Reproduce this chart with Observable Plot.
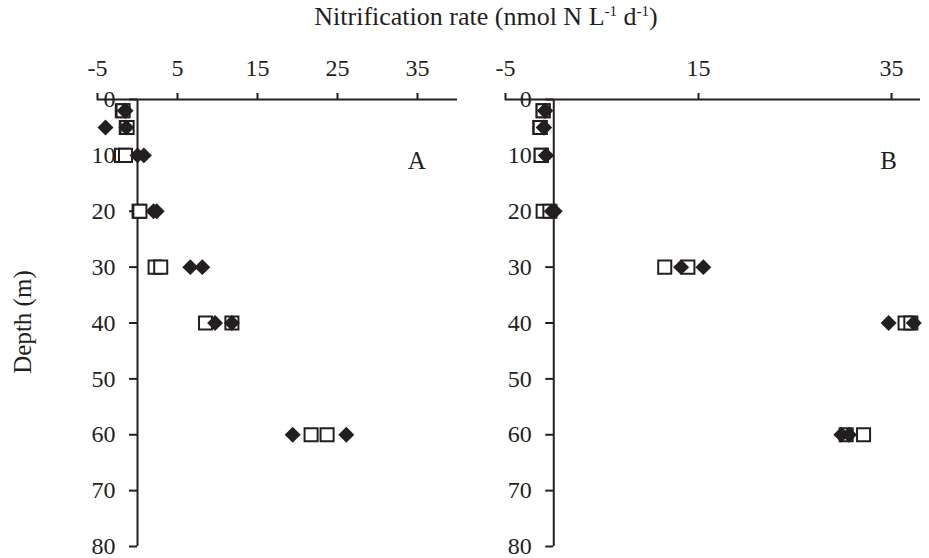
<!DOCTYPE html>
<html>
<head>
<meta charset="utf-8">
<script src="https://cdn.jsdelivr.net/npm/d3@7"></script>
<script src="https://cdn.jsdelivr.net/npm/@observablehq/plot@0.6"></script>
<style>
  html, body { margin: 0; padding: 0; background: #fff; }
  #wrap { position: relative; width: 929px; height: 558px; font-family: "Liberation Serif", "Times New Roman", serif; color: #231f20; overflow: hidden; }
  #title { position: absolute; left: 486px; top: 4px; transform: translateX(-50%); font-size: 26px; line-height: 26px; white-space: nowrap; }
  #title sup { font-size: 15px; vertical-align: 9px; line-height: 0; }
  #ylab { position: absolute; left: 22px; top: 322px; transform: translate(-50%, -50%) rotate(-90deg); font-size: 25px; line-height: 25px; white-space: nowrap; }
  #pA { position: absolute; left: 0; top: 0; }
  #pB { position: absolute; left: 470px; top: 0; }
  #pA svg, #pB svg { font-family: "Liberation Serif", "Times New Roman", serif; font-size: 24px; }
</style>
</head>
<body>
<div id="wrap">
  <div id="title">Nitrification rate (nmol N L<sup>-1</sup> d<sup>-1</sup>)</div>
  <div id="ylab">Depth (m)</div>
  <div id="pA"></div>
  <div id="pB"></div>
</div>
<script>
// Depths sampled (m)
const depths = [2, 5, 10, 20, 30, 40, 60];

// Panel A values (nmol N L-1 d-1)
const aSquare1  = [-1.9, -1.4, -2.0, 0.2, 2.2, 8.5, 21.7];
const aSquare2  = [-1.8, -1.3, -1.5, 0.3, 2.9, 11.8, 23.7];
const aDiamond1 = [-1.6, -4.0, 0.0, 2.0, 6.6, 9.7, 19.4];
const aDiamond2 = [-1.5, -1.4, 0.8, 2.4, 8.1, 11.8, 26.1];

// Panel B values (nmol N L-1 d-1)
const bSquare1  = [-1.1, -1.45, -1.3, -1.1, 11.5, 36.4, 30.3];
const bSquare2  = [-1.1, -1.4, -1.3, -0.4, 13.9, 37.0, 32.1];
const bDiamond1 = [-0.9, -1.05, -0.8, -0.2, 13.2, 34.7, 29.8];
const bDiamond2 = [-0.9, -1.0, -0.8, 0.1, 15.5, 37.3, 30.6];

// Tick labels
const depthTicks = [0, 10, 20, 30, 40, 50, 60, 70, 80];
const xTicksA = [-5, 5, 15, 25, 35];
const xTicksB = [-5, 15, 35];
const panelLabels = ["A", "B"];

const ink = "#231f20";

function rows(...series) {
  const out = [];
  for (const s of series) s.forEach((v, i) => out.push({depth: depths[i], v}));
  return out;
}

function panel({width, marginLeft, marginRight, xDomain, xTicks, squares, diamonds, label, labelPos}) {
  const inner = width - marginLeft - marginRight;
  const zeroOffset = (0 - xDomain[0]) / (xDomain[1] - xDomain[0]) * inner;
  return Plot.plot({
    width,
    height: 558,
    marginTop: 99,
    marginBottom: 12,
    marginLeft,
    marginRight,
    style: "font-family: 'Liberation Serif', 'Times New Roman', serif; font-size: 24px; color: #231f20; background: transparent; overflow: visible;",
    x: {domain: xDomain, label: null},
    y: {domain: [0, 80], reverse: true, label: null},
    marks: [
      Plot.axisX(xTicks, {anchor: "top", tickSize: 7, tickPadding: 17, tickFormat: d => String(d), strokeWidth: 2, stroke: ink, fill: ink, label: null}),
      Plot.axisY(depthTicks, {anchor: "left", dx: zeroOffset, tickSize: 8, tickPadding: 14, tickFormat: d => String(d), strokeWidth: 2, stroke: ink, fill: ink, label: null}),
      Plot.ruleY([0], {x1: xDomain[0], x2: xDomain[1], stroke: ink, strokeWidth: 2}),
      Plot.ruleX([0], {y1: 0, y2: 80, stroke: ink, strokeWidth: 2}),
      Plot.dot(squares, {x: "v", y: "depth", symbol: "square2", r: 8.3, stroke: ink, strokeWidth: 2, fill: "white"}),
      Plot.dot(diamonds, {x: "v", y: "depth", symbol: "diamond2", r: 7.2, fill: ink, stroke: "none"}),
      Plot.text([label], {x: labelPos[0], y: labelPos[1], text: d => d, fontSize: 25, fill: ink})
    ]
  });
}

document.getElementById("pA").append(panel({
  width: 470, marginLeft: 97, marginRight: 13,
  xDomain: [-5, 40], xTicks: xTicksA,
  squares: rows(aSquare1, aSquare2),
  diamonds: rows(aDiamond1, aDiamond2),
  label: panelLabels[0], labelPos: [34.9, 11]
}));

document.getElementById("pB").append(panel({
  width: 459, marginLeft: 35, marginRight: 9,
  xDomain: [-5, 38], xTicks: xTicksB,
  squares: rows(bSquare1, bSquare2),
  diamonds: rows(bDiamond1, bDiamond2),
  label: panelLabels[1], labelPos: [34.7, 11]
}));
</script>
</body>
</html>
